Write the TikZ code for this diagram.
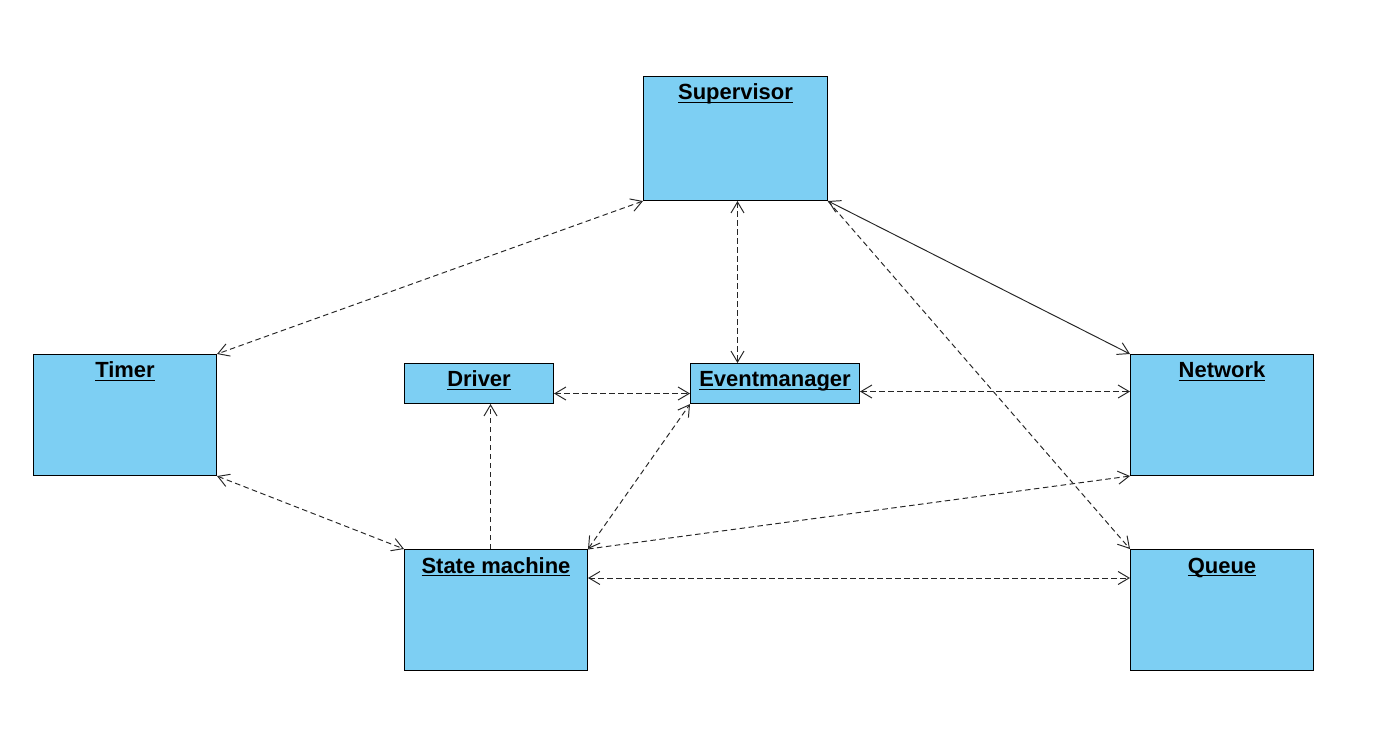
\documentclass[tikz,border=0pt]{standalone}
\usepackage{fontspec}
\setmainfont{Liberation Sans}
\usepackage{tikz}
\usetikzlibrary{arrows.meta}
\definecolor{boxblue}{RGB}{125,207,243}

\begin{document}
\begin{tikzpicture}[x=0.02cm,y=-0.02cm,>={Straight Barb[length=0.22cm,width=0.26cm]}]
	\tikzset{ObjStyle/.style = {draw=black,fill=boxblue,line width=0.6pt,inner sep=0pt,anchor=north west,minimum width=3.66cm,minimum height=2.42cm},
		SmallStyle/.style = {ObjStyle,minimum height=0.8cm},
		TitleStyle/.style = {label={[anchor=base,yshift=-0.48cm,inner sep=0pt,font=\fontsize{12.5}{15}\selectfont\bfseries]north:\underline{\smash{#1}}}},
		EdgeStyle/.style = {draw=black!85,line width=0.55pt,dash pattern=on 0.11cm off 0.07cm}}
	\useasboundingbox (0,0) rectangle (1390,730);
	% objects
	\node[ObjStyle,minimum width=3.68cm,minimum height=2.48cm,TitleStyle=Supervisor] (sup) at (643,76) {};
	\node[ObjStyle,TitleStyle=Timer] (timer) at (33,354) {};
	\node[SmallStyle,minimum width=2.98cm,TitleStyle=Driver] (drv) at (404,363) {};
	\node[SmallStyle,minimum width=3.38cm,TitleStyle=Eventmanager] (evm) at (690,363) {};
	\node[ObjStyle,TitleStyle=Network] (net) at (1130,354) {};
	\node[ObjStyle,TitleStyle={State machine}] (sm) at (404,549) {};
	\node[ObjStyle,TitleStyle=Queue] (que) at (1130,549) {};
	% links
	\draw[EdgeStyle,<->] (sup.south west) -- (timer.north east);
	\draw[EdgeStyle,<->] ([xshift=0.04cm]sup.south) -- ([xshift=0.04cm]sup.south |- evm.north);
	\draw[EdgeStyle,solid,<->] (sup.south east) -- (net.north west);
	\draw[EdgeStyle,->] (sup.south east) -- (que.north west);
	\draw[EdgeStyle,<->] ([yshift=-0.2cm]drv.east) -- ([yshift=-0.2cm]evm.west);
	\draw[EdgeStyle,->] ([xshift=-0.11cm]sm.north) -- ([xshift=-0.11cm]sm.north |- drv.south);
	\draw[EdgeStyle,<->] (sm.north east) -- (evm.south west);
	\draw[EdgeStyle,<->] (timer.south east) -- (sm.north west);
	\draw[EdgeStyle,<->] ([yshift=-0.16cm]evm.east) -- ([yshift=-0.16cm]evm.east -| net.west);
	\draw[EdgeStyle,->] (sm.north east) -- (net.south west);
	\draw[EdgeStyle,<->] ([yshift=-0.58cm]sm.north east) -- ([yshift=-0.58cm]sm.north east -| que.west);
\end{tikzpicture}
\end{document}
